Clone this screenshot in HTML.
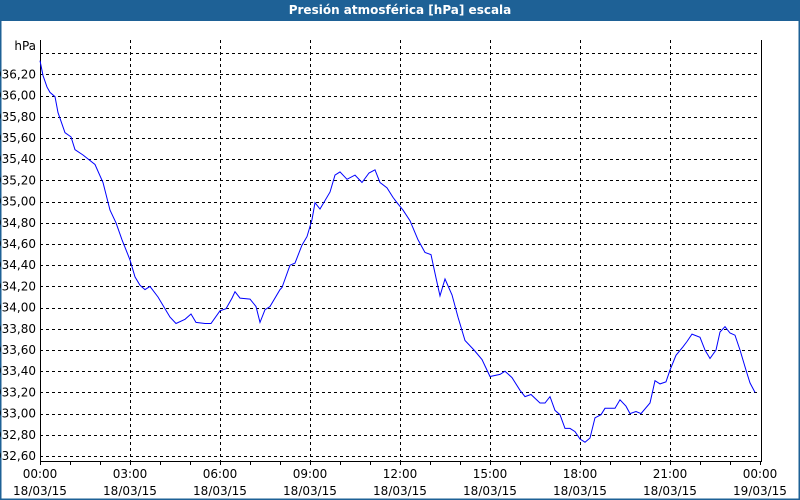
<!DOCTYPE html>
<html><head><meta charset="utf-8"><style>
html,body{margin:0;padding:0;background:#fff}
#wrap{position:relative;width:800px;height:500px;overflow:hidden;background:#fff;font-family:Tahoma,"DejaVu Sans","Liberation Sans",sans-serif}
#title{position:absolute;left:0;top:0;width:800px;height:20px;background:#1e6196;color:#fff;font-weight:bold;font-size:12px;line-height:21px;text-align:center}
</style></head><body>
<div id="wrap">
<div id="title">Presión atmosférica [hPa] escala</div>
<svg id="chart" width="800" height="500" style="position:absolute;left:0;top:0"></svg>
</div>
<script>
const minutes=[0,6,14,20,30,36,50,62,70,86,110,126,140,152,164,180,190,200,210,220,236,250,260,272,290,302,312,330,342,360,372,384,390,400,420,432,440,450,460,480,484,500,510,524,534,544,550,560,580,590,600,614,630,644,658,670,680,694,706,714,726,740,756,770,782,792,800,810,824,836,850,868,884,900,920,930,944,960,970,982,1000,1010,1020,1030,1040,1050,1060,1070,1080,1090,1100,1110,1122,1130,1150,1160,1172,1180,1192,1202,1220,1230,1240,1252,1260,1272,1286,1294,1304,1320,1330,1340,1352,1360,1370,1380,1390,1400,1412,1420,1430];
const pressure=[936.33,936.19,936.08,936.03,935.99,935.84,935.65,935.61,935.49,935.44,935.35,935.18,934.92,934.80,934.64,934.45,934.29,934.21,934.17,934.20,934.10,933.99,933.91,933.85,933.89,933.94,933.86,933.85,933.85,933.97,933.99,934.09,934.15,934.09,934.08,934.01,933.86,933.98,934.01,934.17,934.19,934.40,934.42,934.59,934.67,934.83,934.99,934.93,935.09,935.25,935.28,935.21,935.25,935.18,935.27,935.30,935.18,935.13,935.04,934.99,934.92,934.82,934.64,934.52,934.50,934.28,934.11,934.27,934.12,933.91,933.69,933.60,933.51,933.35,933.37,933.40,933.34,933.22,933.16,933.18,933.10,933.10,933.16,933.03,932.99,932.86,932.86,932.83,932.76,932.73,932.77,932.96,932.99,933.05,933.05,933.13,933.07,933.00,933.02,933.00,933.10,933.31,933.28,933.30,933.41,933.55,933.63,933.68,933.75,933.72,933.60,933.52,933.60,933.77,933.82,933.76,933.74,933.60,933.41,933.29,933.20];
const yTicks=[936.20,936.00,935.80,935.60,935.40,935.20,935.00,934.80,934.60,934.40,934.20,934.00,933.80,933.60,933.40,933.20,933.00,932.80,932.60];
const gridValues=[936.40,936.20,936.00,935.80,935.60,935.40,935.20,935.00,934.80,934.60,934.40,934.20,934.00,933.80,933.60,933.40,933.20,933.00,932.80,932.60];
const xTimes=["00:00","03:00","06:00","09:00","12:00","15:00","18:00","21:00","00:00"];
const xDates=["18/03/15","18/03/15","18/03/15","18/03/15","18/03/15","18/03/15","18/03/15","18/03/15","19/03/15"];

const NS="http://www.w3.org/2000/svg";
const svg=document.getElementById('chart');
const L=40,R=760,T=40,B=461;
const xs=m=>L+(m/1440)*(R-L);
const ys=v=>456-(v-932.6)*106;
function mk(tag,attrs,parent){const e=document.createElementNS(NS,tag);for(const k in attrs)e.setAttribute(k,attrs[k]);(parent||svg).appendChild(e);return e;}

const fr=mk('rect',{x:0.5,y:20,width:799,height:479.5,fill:'none',stroke:'#1e6196','stroke-width':2});



gridValues.forEach(v=>{
  const g=mk('line',{x1:L,x2:R,y1:Math.round(ys(v))+0.5,y2:Math.round(ys(v))+0.5,stroke:'#000','stroke-dasharray':'3,3','stroke-width':1});
  
  
});
for(let h=0;h<=24;h++){
  const x=Math.round(xs(h*60))+0.5;
  if(h%3===0&&h>0&&h<24){
    const g=mk('line',{x1:x,x2:x,y1:T,y2:B,stroke:'#000','stroke-dasharray':'3,3','stroke-width':1});
    
    
  }
  const t=mk('line',{x1:x,x2:x,y1:B,y2:B+4,stroke:'#000','stroke-width':1});
  
  
}
const ax=mk('path',{d:`M${L+0.5},${T} V${B+0.5} H${R+1.5} V${T}`,fill:'none',stroke:'#000','stroke-width':1});



yTicks.forEach(v=>{
  const t=mk('text',{x:36,y:ys(v)+4,'text-anchor':'end','font-size':12,fill:'#000','font-family':'Tahoma,"DejaVu Sans","Liberation Sans",sans-serif'});
  t.textContent=v.toFixed(2).replace('.',',');
  
  
});
const u=mk('text',{x:36,y:50,'text-anchor':'end','font-size':12,fill:'#000','font-family':'Tahoma,"DejaVu Sans","Liberation Sans",sans-serif'});
u.textContent='hPa';



xTimes.forEach((s,i)=>{
  const x=xs(i*180);
  const t1=mk('text',{x:x,y:478,'text-anchor':'middle','font-size':12,fill:'#000','font-family':'Tahoma,"DejaVu Sans","Liberation Sans",sans-serif'});
  t1.textContent=s;
  
  
  const t2=mk('text',{x:x,y:495,'text-anchor':'middle','font-size':12,fill:'#000','font-family':'Tahoma,"DejaVu Sans","Liberation Sans",sans-serif'});
  t2.textContent=xDates[i];
  
  
});

const n=Math.min(minutes.length,pressure.length);
const pts=minutes.slice(0,n).map((m,i)=>xs(m).toFixed(1)+','+ys(pressure[i]).toFixed(1)).join(' ');
const pl=mk('polyline',{points:pts,fill:'none',stroke:'#0000ff','stroke-width':1});


</script>
</body></html>
